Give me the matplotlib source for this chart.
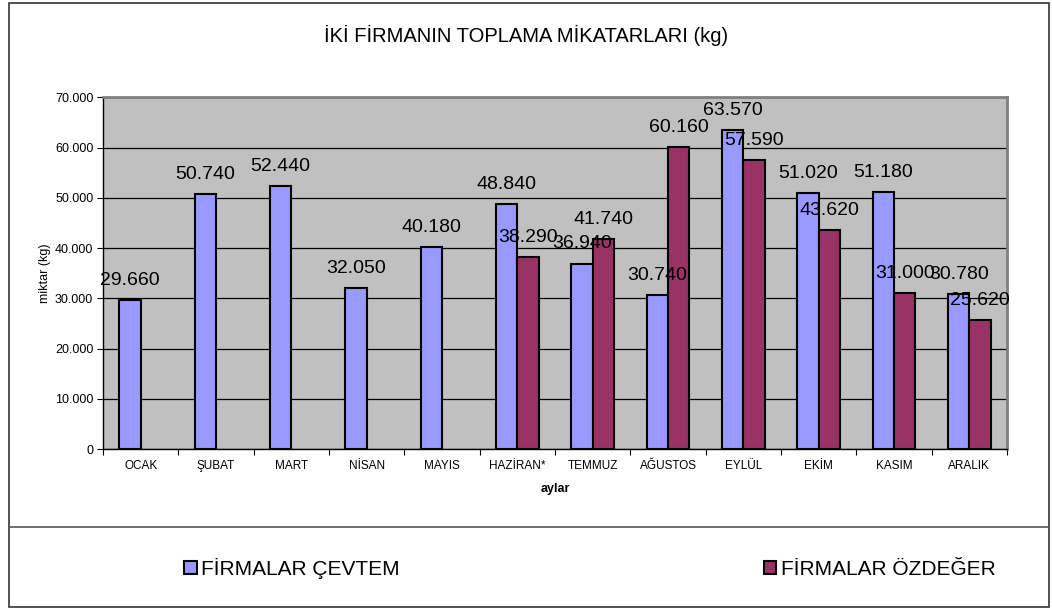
import numpy as np
import matplotlib
matplotlib.use("Agg")
import matplotlib.pyplot as plt
from matplotlib.patches import Rectangle, Patch
from matplotlib.lines import Line2D

plt.rcParams['font.family'] = ['Liberation Sans', 'DejaVu Sans']

months = ["OCAK", "ŞUBAT", "MART", "NİSAN", "MAYIS", "HAZİRAN*", "TEMMUZ",
          "AĞUSTOS", "EYLÜL", "EKİM", "KASIM", "ARALIK"]
cevtem = [29660, 50740, 52440, 32050, 40180, 48840, 36940, 30740, 63570, 51020, 51180, 30780]
ozdeger = [np.nan, np.nan, np.nan, np.nan, np.nan, 38290, 41740, 60160, 57590, 43620, 31000, 25620]
series_names = ["FİRMALAR ÇEVTEM", "FİRMALAR ÖZDEĞER"]
yticks = [0, 10000, 20000, 30000, 40000, 50000, 60000, 70000]
title = "İKİ FİRMANIN TOPLAMA MİKATARLARI (kg)"

c_blue = "#9999ff"
c_red = "#993366"

W, H = 1052, 610
fig = plt.figure(figsize=(W / 100, H / 100), dpi=100)

def fx(px):
    return px / W

def fy(py):
    return 1 - py / H

left, right, top, bottom = 103, 1007, 97.5, 449
ax = fig.add_axes([fx(left), fy(bottom), fx(right - left), (bottom - top) / H])
ax.set_facecolor("#c0c0c0")

x = np.arange(len(months))
w = 0.285
ax.bar(x - w / 2, cevtem, w, color=c_blue, edgecolor="black", linewidth=1.5, zorder=3)
ax.bar(x + w / 2, ozdeger, w, color=c_red, edgecolor="black", linewidth=1.5, zorder=3)

def fmt(v):
    return f"{v:,.0f}".replace(",", ".")

for xi, v in zip(x - w / 2, cevtem):
    ax.annotate(fmt(v), (xi, v), xytext=(0, 8), textcoords="offset points",
                ha="center", va="bottom", fontsize=14, zorder=5)
for xi, v in zip(x + w / 2, ozdeger):
    if np.isnan(v):
        continue
    ax.annotate(fmt(v), (xi, v), xytext=(0, 8), textcoords="offset points",
                ha="center", va="bottom", fontsize=14, zorder=5)

ax.set_xlim(-0.5, len(months) - 0.5)
ax.set_ylim(0, 70000)
ax.set_yticks(yticks)
ax.set_yticklabels([fmt(v) for v in yticks], fontsize=9)
ax.yaxis.grid(True, color="black", linewidth=0.9, zorder=1)
ax.set_axisbelow(True)

ax.set_xticks(np.arange(len(months) + 1) - 0.5)
ax.set_xticklabels([])
ax.set_xticks(x, minor=True)
ax.set_xticklabels(months, minor=True, fontsize=8.5)
ax.tick_params(axis="x", which="major", length=4, direction="out", color="black")
ax.tick_params(axis="x", which="minor", length=0, pad=14.4)
for lab in ax.get_xticklabels(minor=True):
    lab.set_verticalalignment("baseline")
ax.tick_params(axis="y", length=4, direction="out", color="black", pad=3)

ax.set_ylabel("miktar (kg)", fontsize=9, labelpad=3)
ax.set_xlabel("aylar", fontsize=9, fontweight="bold", labelpad=8)

for s in ["top", "right"]:
    ax.spines[s].set_color("#808080")
    ax.spines[s].set_linewidth(2)
for s in ["left", "bottom"]:
    ax.spines[s].set_color("black")
    ax.spines[s].set_linewidth(1)

fig.text(0.5, fy(35), title, ha="center", va="center", fontsize=14.5)

# outer border and separator line
fig.add_artist(Rectangle((fx(9), fy(607)), fx(1049 - 9), (607 - 3) / H,
                         transform=fig.transFigure, fill=False,
                         edgecolor="#333333", linewidth=1.2))
fig.add_artist(Line2D([fx(9), fx(1049)], [fy(527), fy(527)],
                      transform=fig.transFigure, color="#555555", linewidth=1.2))

handles = [Patch(facecolor=c_blue, edgecolor="black", linewidth=1.5),
           Patch(facecolor=c_red, edgecolor="black", linewidth=1.5)]
fig.legend(handles, series_names, loc="center left",
           bbox_to_anchor=(fx(184), fy(568)), ncol=2, frameon=False,
           fontsize=15, handlelength=0.6, handleheight=0.6, handletextpad=0.2,
           columnspacing=17.5, borderpad=0, borderaxespad=0)

fig.savefig("out.png", dpi=100)
